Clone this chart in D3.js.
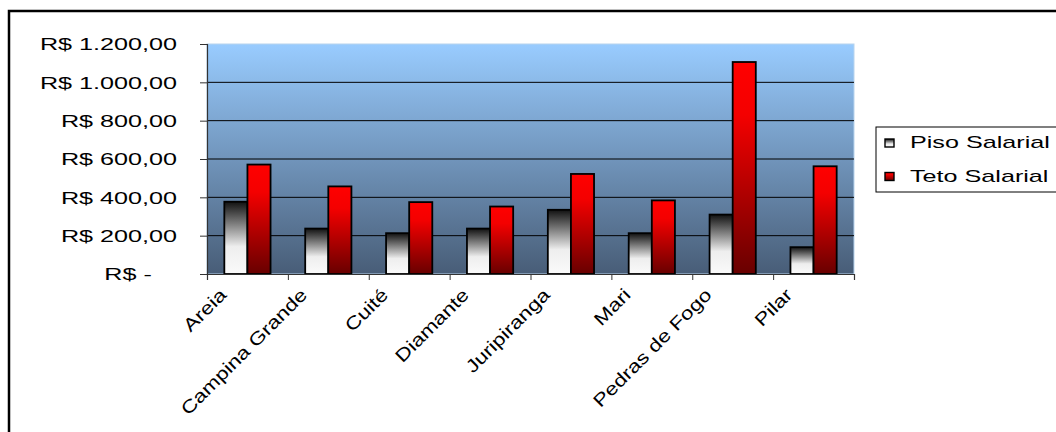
<html>
<head>
    <title>Piso e Teto Salarial</title>
    <script type="text/javascript" src="https://cdn.jsdelivr.net/npm/d3@7/dist/d3.min.js"></script>
    <style>
        body { margin: 0; background: #fff; }
        text { font-family: "Liberation Sans", Arial, sans-serif; fill: #000; }
    </style>
</head>
<body>

<div id="chart"></div>

<script type="text/javascript">

    // values (R$)
    var cidades = ["Areia", "Campina Grande", "Cuité", "Diamante", "Juripiranga", "Mari", "Pedras de Fogo", "Pilar"];
    var series = ["Piso Salarial", "Teto Salarial"];
    var piso = [377, 237, 213, 237, 335, 213, 310, 140];
    var teto = [571, 457, 375, 352, 522, 384, 1106, 562];
    var yTicks = [0, 200, 400, 600, 800, 1000, 1200];

    var rows = cidades.map(function (c, i) { return {cidade: c, valores: [piso[i], teto[i]]}; });

    var W = 1056, H = 432;
    var plotLeft = 207, plotRight = 854, plotTop = 44, plotBottom = 274;
    var STRETCH = 1.48;   // the text in the picture is wide

    var svg = d3.select("#chart").append("svg")
        .attr("width", W)
        .attr("height", H);

    var defs = svg.append("defs");

    var bg = defs.append("linearGradient").attr("id", "bg")
        .attr("x1", 0).attr("y1", 0).attr("x2", 0).attr("y2", 1);
    bg.append("stop").attr("offset", "0%").attr("stop-color", "#99ccff");
    bg.append("stop").attr("offset", "100%").attr("stop-color", "#485d77");

    var gPiso = defs.append("linearGradient").attr("id", "gPiso")
        .attr("x1", 0).attr("y1", 0).attr("x2", 0).attr("y2", 1);
    gPiso.append("stop").attr("offset", "0%").attr("stop-color", "#111");
    gPiso.append("stop").attr("offset", "62%").attr("stop-color", "#eeeeee");
    gPiso.append("stop").attr("offset", "100%").attr("stop-color", "#fafafa");

    var gTeto = defs.append("linearGradient").attr("id", "gTeto")
        .attr("x1", 0).attr("y1", 0).attr("x2", 0).attr("y2", 1);
    gTeto.append("stop").attr("offset", "0%").attr("stop-color", "#ff0000");
    gTeto.append("stop").attr("offset", "25%").attr("stop-color", "#f40000");
    gTeto.append("stop").attr("offset", "100%").attr("stop-color", "#680000");

    var fills = ["url(#gPiso)", "url(#gTeto)"];

    // outer chart border (runs off the right and bottom edges)
    svg.append("rect")
        .attr("x", 9).attr("y", 11)
        .attr("width", 1200).attr("height", 600)
        .attr("fill", "none")
        .attr("stroke", "#000")
        .attr("stroke-width", 2.5);

    // scales
    var y = d3.scaleLinear().domain([0, 1200]).range([plotBottom, plotTop]);
    var x0 = d3.scaleBand().domain(cidades).range([plotLeft, plotRight])
        .paddingInner(1.5 / 3.5).paddingOuter(0.75 / 3.5);
    var x1 = d3.scaleBand().domain(series).range([0, x0.bandwidth()]);
    var xEdge = d3.scaleLinear().domain([0, cidades.length]).range([plotLeft, plotRight]);

    // plot background
    svg.append("rect")
        .attr("x", plotLeft).attr("y", plotTop)
        .attr("width", plotRight - plotLeft).attr("height", plotBottom - plotTop)
        .attr("fill", "url(#bg)")
        .attr("stroke", "#b8d4ee")
        .attr("stroke-width", 1);

    // gridlines
    svg.append("g").selectAll("line")
        .data(yTicks.filter(function (d) { return d > 0 && d < 1200; }))
        .enter().append("line")
        .attr("x1", plotLeft).attr("x2", plotRight)
        .attr("y1", function (d) { return y(d); })
        .attr("y2", function (d) { return y(d); })
        .attr("stroke", "#000")
        .attr("stroke-width", 1);

    // bars
    var groups = svg.append("g").selectAll("g")
        .data(rows)
        .enter().append("g")
        .attr("transform", function (d) { return "translate(" + x0(d.cidade) + ",0)"; });

    groups.selectAll("rect")
        .data(function (d) { return d.valores.map(function (v, i) { return {serie: series[i], valor: v, i: i}; }); })
        .enter().append("rect")
        .attr("x", function (d) { return x1(d.serie); })
        .attr("y", function (d) { return y(d.valor); })
        .attr("width", x1.bandwidth())
        .attr("height", function (d) { return plotBottom - y(d.valor); })
        .attr("fill", function (d) { return fills[d.i]; })
        .attr("stroke", "#000")
        .attr("stroke-width", 1.8);

    // y axis
    var brl = d3.formatLocale({decimal: ",", thousands: ".", grouping: [3], currency: ["R$ ", ""]});
    var fmt = brl.format("$,.2f");

    var yAxis = svg.append("g")
        .attr("transform", "translate(" + plotLeft + ",0)")
        .call(d3.axisLeft(y).tickValues(yTicks).tickSize(7)
            .tickFormat(function (d) { return d === 0 ? "R$ -" : fmt(d); }));
    yAxis.select(".domain").attr("stroke", "#333").attr("stroke-width", 1.2);
    yAxis.selectAll(".tick line").attr("stroke", "#333");
    yAxis.selectAll(".tick text")
        .attr("x", 0)
        .attr("dx", function (d) { return d === 0 ? "-1em" : 0; })
        .attr("dy", "0.35em")
        .attr("font-size", 17)
        .attr("font-family", "Liberation Sans, Arial, sans-serif")
        .attr("fill", "#000")
        .attr("transform", "translate(-30,0) scale(" + STRETCH + ",1)");

    // x axis: ticks on category edges
    var xAxis = svg.append("g")
        .attr("transform", "translate(0," + plotBottom + ")")
        .call(d3.axisBottom(xEdge).ticks(cidades.length).tickSize(6).tickFormat(""));
    xAxis.select(".domain").attr("stroke", "#333").attr("stroke-width", 1.2);
    xAxis.selectAll(".tick line").attr("stroke", "#333");

    // rotated category labels
    svg.append("g").selectAll("text")
        .data(cidades)
        .enter().append("text")
        .attr("transform", function (d) {
            var cx = x0(d) + x0.bandwidth() / 2;
            return "translate(" + (cx - 20) + "," + (plotBottom + 22) + ") rotate(-45) scale(1.24,1)";
        })
        .attr("text-anchor", "end")
        .attr("font-size", 18)
        .text(function (d) { return d; });

    // legend
    var legend = svg.append("g").attr("transform", "translate(876,127)");
    legend.append("rect")
        .attr("width", 220).attr("height", 65)
        .attr("fill", "#fff")
        .attr("stroke", "#000")
        .attr("stroke-width", 1);

    var items = legend.selectAll("g.item")
        .data(series)
        .enter().append("g")
        .attr("class", "item")
        .attr("transform", function (d, i) { return "translate(0," + (21 + i * 33.5) + ")"; });

    items.append("rect")
        .attr("x", 9).attr("y", -9)
        .attr("width", 9).attr("height", 8)
        .attr("fill", function (d, i) { return fills[i]; })
        .attr("stroke", "#000")
        .attr("stroke-width", 1.4);

    items.append("text")
        .attr("transform", "translate(34,0) scale(" + STRETCH + ",1)")
        .attr("font-size", 17)
        .text(function (d) { return d; });

</script>

</body>
</html>
